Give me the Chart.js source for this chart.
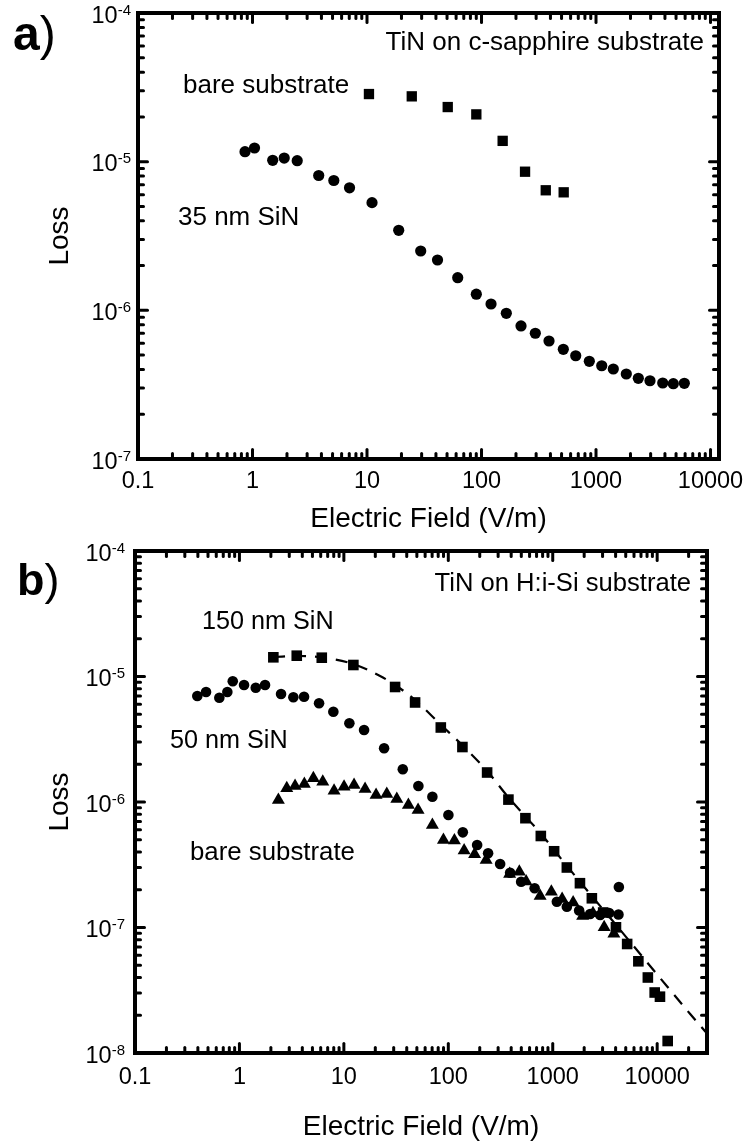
<!DOCTYPE html>
<html><head><meta charset="utf-8">
<script src="https://cdn.jsdelivr.net/npm/chart.js@4/dist/chart.umd.min.js"></script>
<style>
html,body{margin:0;padding:0;background:#fff;}
#wrap{position:relative;width:748px;height:1147px;overflow:hidden;}
canvas{position:absolute;left:0;}
</style></head><body>
<div id="wrap">
<canvas id="ca" width="748" height="540" style="top:0px"></canvas>
<canvas id="cb" width="748" height="607" style="top:540px"></canvas>
</div>
<script>
// ---------- Panel a) TiN on c-sapphire ----------
const aBareX = [10.4, 24.6, 50.7, 90.1, 153, 240, 364, 522];
const aBareY = [2.85e-5, 2.75e-5, 2.33e-5, 2.08e-5, 1.38e-5, 8.56e-6, 6.42e-6, 6.22e-6];
const aSiN35X = [0.860, 1.041, 1.501, 1.892, 2.457, 3.787, 5.129, 7.035, 11.06, 18.92, 29.44, 41.28, 61.97, 90.1, 121.1, 164.7, 221.3, 295.1, 388.6, 518.1, 664.8, 874, 1122, 1416, 1839, 2341, 2961, 3824, 4733, 5905];
const aSiN35Y = [1.167e-5, 1.236e-5, 1.021e-5, 1.058e-5, 1.015e-5, 8.07e-6, 7.47e-6, 6.67e-6, 5.30e-6, 3.455e-6, 2.506e-6, 2.18e-6, 1.658e-6, 1.284e-6, 1.103e-6, 9.55e-7, 7.85e-7, 7.01e-7, 6.22e-7, 5.47e-7, 4.95e-7, 4.54e-7, 4.24e-7, 4.03e-7, 3.73e-7, 3.49e-7, 3.36e-7, 3.245e-7, 3.21e-7, 3.23e-7];

// ---------- Panel b) TiN on H:i-Si ----------
const bSiN150X = [2.112, 3.539, 6.143, 12.33, 30.94, 48.08, 84.76, 136.5, 235.3, 376.4, 547.5, 769, 1031, 1365, 1822, 2369, 3040, 4031, 5159, 6605, 8143, 9465, 10636, 12607];
const bSiN150Y = [1.422e-5, 1.465e-5, 1.412e-5, 1.235e-5, 8.25e-6, 6.21e-6, 3.924e-6, 2.742e-6, 1.718e-6, 1.045e-6, 7.43e-7, 5.36e-7, 4.05e-7, 3.007e-7, 2.254e-7, 1.709e-7, 1.317e-7, 1.004e-7, 7.39e-8, 5.38e-8, 3.996e-8, 3.034e-8, 2.81e-8, 1.246e-8];
const bSiN50X = [0.395, 0.479, 0.642, 0.766, 0.863, 1.107, 1.433, 1.759, 2.503, 3.283, 4.157, 5.788, 7.93, 11.29, 15.61, 24.28, 36.66, 51.7, 70.4, 100.2, 137.7, 188.8, 240.5, 313.5, 390.8, 498.2, 670.9, 1095, 1365, 1790, 2281, 2844, 3469, 4259, 4297];
const bSiN50Y = [6.99e-6, 7.52e-6, 6.78e-6, 7.52e-6, 9.16e-6, 8.56e-6, 8.14e-6, 8.56e-6, 7.25e-6, 6.83e-6, 6.90e-6, 6.12e-6, 5.24e-6, 4.24e-6, 3.75e-6, 2.678e-6, 1.822e-6, 1.341e-6, 1.102e-6, 7.88e-7, 5.73e-7, 4.54e-7, 3.90e-7, 3.21e-7, 2.733e-7, 2.317e-7, 2.053e-7, 1.606e-7, 1.464e-7, 1.366e-7, 1.281e-7, 1.258e-7, 1.305e-7, 1.269e-7, 2.102e-7];
const bBareX = [2.359, 2.839, 3.409, 4.183, 5.105, 6.281, 8.056, 10.04, 12.52, 15.96, 20.34, 25.76, 32.12, 41.48, 51.36, 70.42, 89.8, 114.4, 141.7, 178.6, 230.2, 386.5, 478.7, 556.2, 757.5, 969.6, 1230, 1568, 1934, 2428, 3107, 3849];
const bBareY = [1.037e-6, 1.286e-6, 1.341e-6, 1.391e-6, 1.544e-6, 1.451e-6, 1.230e-6, 1.324e-6, 1.366e-6, 1.269e-6, 1.137e-6, 1.158e-6, 1.056e-6, 9.46e-7, 8.64e-7, 6.56e-7, 4.98e-7, 4.93e-7, 4.11e-7, 3.84e-7, 3.45e-7, 2.668e-7, 2.783e-7, 2.325e-7, 1.782e-7, 1.929e-7, 1.687e-7, 1.582e-7, 1.235e-7, 1.298e-7, 1.004e-7, 8.93e-8];
const bFitX = [2.098, 3.807, 6.184, 12.25, 22.22, 30.94, 48.08, 85.3, 135.6, 235.3, 373.9, 543.9, 774.3, 1344, 2385, 4049, 6875, 12470, 20710, 30000];
const bFitY = [1.43e-5, 1.457e-5, 1.417e-5, 1.258e-5, 1.009e-5, 8.56e-6, 6.50e-6, 4.11e-6, 2.845e-6, 1.766e-6, 1.096e-6, 7.73e-7, 5.56e-7, 3.148e-7, 1.766e-7, 1.047e-7, 6.15e-8, 3.388e-8, 2.045e-8, 1.43e-8];

// ---------- Axis ticks / labels ----------
const xTickValues = [0.1, 1, 10, 100, 1000, 10000];
const xTickLabels = ['0.1', '1', '10', '100', '1000', '10000'];
const aYTickExps = [-7, -6, -5, -4];
const bYTickExps = [-8, -7, -6, -5, -4];
const xTitle = 'Electric Field (V/m)';
const yTitle = 'Loss';

const FONT = '"Liberation Sans", Arial, Helvetica, sans-serif';

function zip(xs, ys) { return xs.map((x, i) => ({x: x, y: ys[i]})); }
function minorTicks(min, max) {
  const out = [];
  for (let e = Math.floor(Math.log10(min)); e <= Math.ceil(Math.log10(max)); e++) {
    for (let m = 2; m <= 9; m++) {
      const v = m * Math.pow(10, e);
      if (v > min * 1.0001 && v < max * 0.9999) out.push(v);
    }
  }
  return out;
}

function makePlugin(p) {
  return {
    id: 'frame' + p.id,
    afterDraw(chart) {
      const ctx = chart.ctx, a = chart.chartArea;
      const xs = chart.scales.x, ys = chart.scales.y;
      ctx.save();
      ctx.strokeStyle = '#000';
      ctx.fillStyle = '#000';
      const seg = (x1, y1, x2, y2) => { ctx.beginPath(); ctx.moveTo(x1, y1); ctx.lineTo(x2, y2); ctx.stroke(); };
      // ticks (inward, all four sides)
      ctx.lineCap = 'round';
      ctx.lineWidth = 3;
      const MAJ = 9.5, MIN = 5.5;
      for (const v of minorTicks(xs.min, xs.max)) {
        const px = xs.getPixelForValue(v);
        seg(px, a.bottom, px, a.bottom - MIN); seg(px, a.top, px, a.top + MIN);
      }
      for (const v of xTickValues) {
        if (v > xs.max) continue;
        const px = xs.getPixelForValue(v);
        seg(px, a.bottom, px, a.bottom - MAJ); seg(px, a.top, px, a.top + MAJ);
      }
      for (const v of minorTicks(ys.min, ys.max)) {
        const py = ys.getPixelForValue(v);
        seg(a.left, py, a.left + MIN, py); seg(a.right, py, a.right - MIN, py);
      }
      for (const e of p.yExps) {
        const py = ys.getPixelForValue(Math.pow(10, e));
        seg(a.left, py, a.left + MAJ, py); seg(a.right, py, a.right - MAJ, py);
      }
      // frame
      ctx.lineCap = 'square';
      ctx.lineWidth = 4;
      ctx.strokeRect(a.left, a.top, a.right - a.left, a.bottom - a.top);

      // x tick labels
      ctx.textBaseline = 'alphabetic';
      ctx.font = '23.5px ' + FONT;
      ctx.textAlign = 'center';
      xTickValues.forEach((v, i) => {
        ctx.fillText(xTickLabels[i], xs.getPixelForValue(v), a.bottom + p.xLabOff);
      });
      // y tick labels 10^n
      for (const e of p.yExps) {
        const py = ys.getPixelForValue(Math.pow(10, e));
        const sup = '-' + Math.abs(e);
        ctx.font = '15px ' + FONT;
        const ws = ctx.measureText(sup).width;
        ctx.font = '23.5px ' + FONT;
        const wb = ctx.measureText('10').width;
        const right = a.left - p.yLabGap;
        ctx.textAlign = 'left';
        ctx.fillText('10', right - ws - wb, py + 9.5);
        ctx.font = '15px ' + FONT;
        ctx.fillText(sup, right - ws, py + 1.5);
      }
      // axis titles
      ctx.font = '28px ' + FONT;
      ctx.textAlign = 'center';
      ctx.fillText(xTitle, (a.left + a.right) / 2, p.xTitleY);
      ctx.save();
      ctx.translate(68, (a.top + a.bottom) / 2);
      ctx.rotate(-Math.PI / 2);
      ctx.fillText(yTitle, 0, 0);
      ctx.restore();
      // panel letter
      ctx.textAlign = 'left';
      ctx.font = 'bold ' + p.letterSize + 'px ' + FONT;
      ctx.fillText(p.letter, p.letterX, p.letterY);
      const lw = ctx.measureText(p.letter).width;
      ctx.font = p.letterSize + 'px ' + FONT;
      ctx.fillText(')', p.letterX + lw, p.letterY);
      // annotations
      for (const t of p.notes) {
        ctx.font = t.size + 'px ' + FONT;
        ctx.textAlign = t.align || 'left';
        ctx.fillText(t.text, t.x, t.y);
      }
      ctx.restore();
    }
  };
}

function baseOptions(xmin, xmax, ymin, ymax, pad, yW, xH) {
  const hidden = {display: false};
  return {
    responsive: false, animation: false, devicePixelRatio: 1, events: [],
    layout: {padding: pad},
    plugins: {legend: {display: false}, tooltip: {enabled: false}, title: {display: false}},
    scales: {
      x: {type: 'logarithmic', min: xmin, max: xmax, grid: hidden, border: hidden,
          ticks: {display: false}, afterFit: s => { s.height = xH; }},
      y: {type: 'logarithmic', min: ymin, max: ymax, grid: hidden, border: hidden,
          ticks: {display: false}, afterFit: s => { s.width = yW; }}
    }
  };
}

const pointDs = (label, data, style, r) => ({
  label, data, showLine: false, pointStyle: style, pointRadius: r,
  pointBackgroundColor: '#000', pointBorderColor: '#000', pointBorderWidth: 0,
  backgroundColor: '#000', borderColor: '#000'
});

// Chart a
new Chart(document.getElementById('ca'), {
  type: 'scatter',
  data: {datasets: [
    pointDs('bare substrate', zip(aBareX, aBareY), 'rect', 7.3),
    pointDs('35 nm SiN', zip(aSiN35X, aSiN35Y), 'circle', 5.6)
  ]},
  options: baseOptions(0.1, 11860, 1e-7, 1e-4, {left: 0, right: 29, top: 13, bottom: 0}, 138, 81),
  plugins: [makePlugin({
    id: 'a', yExps: aYTickExps, xLabOff: 29, yLabGap: 7, xTitleY: 527,
    letter: 'a', letterSize: 48, letterX: 13, letterY: 50,
    notes: [
      {text: 'TiN on c-sapphire substrate', x: 704, y: 50, size: 26, align: 'right'},
      {text: 'bare substrate', x: 183, y: 93, size: 26},
      {text: '35 nm SiN', x: 178, y: 225, size: 26}
    ]
  })]
});

// Chart b
new Chart(document.getElementById('cb'), {
  type: 'scatter',
  data: {datasets: [
    {label: 'fit', data: zip(bFitX, bFitY), showLine: true, borderColor: '#000', borderWidth: 2.2,
     borderDash: [12, 9], pointRadius: 0, fill: false, cubicInterpolationMode: 'monotone'},
    pointDs('150 nm SiN', zip(bSiN150X, bSiN150Y), 'rect', 7.5),
    pointDs('50 nm SiN', zip(bSiN50X, bSiN50Y), 'circle', 5.3),
    pointDs('bare substrate', zip(bBareX, bBareY), 'triangle', 7.5)
  ]},
  options: baseOptions(0.1, 30000, 1e-8, 1e-4, {left: 0, right: 41, top: 11, bottom: 0}, 135, 94),
  plugins: [makePlugin({
    id: 'b', yExps: bYTickExps, xLabOff: 31, yLabGap: 10, xTitleY: 595,
    letter: 'b', letterSize: 45, letterX: 17, letterY: 55,
    notes: [
      {text: 'TiN on H:i-Si substrate', x: 691, y: 51, size: 25.6, align: 'right'},
      {text: '150 nm SiN', x: 202, y: 89, size: 25.2},
      {text: '50 nm SiN', x: 170, y: 208, size: 25.2},
      {text: 'bare substrate', x: 190, y: 320, size: 25.8}
    ]
  })]
});
</script>
</body></html>
